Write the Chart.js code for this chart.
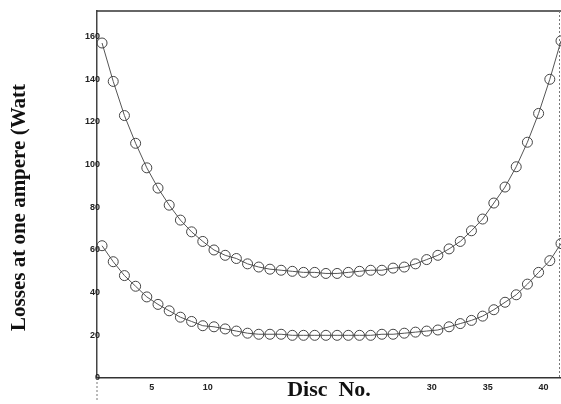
<!DOCTYPE html>
<html>
<head>
<meta charset="utf-8">
<script src="https://cdn.jsdelivr.net/npm/chart.js@4"></script>
<style>
  html, body { margin: 0; padding: 0; background: #fff; }
  #wrap { width: 561px; height: 404px; position: relative; }
</style>
</head>
<body>
<div id="wrap"><canvas id="chart"></canvas></div>
<script>
// disc numbers along the string
const discs = [1, 2, 3, 4, 5, 6, 7, 8, 9, 10, 11, 12, 13, 14, 15, 16, 17, 18, 19, 20, 21,
  22, 23, 24, 25, 26, 27, 28, 29, 30, 31, 32, 33, 34, 35, 36, 37, 38, 39, 40, 41, 42];

// upper curve (watts)
const upperLosses = [157, 139, 123, 110, 98.5, 89, 81, 74, 68.5, 64, 60, 57.5, 56, 53.5, 52, 51,
  50.5, 50, 49.5, 49.5, 49, 49, 49.5, 50, 50.5, 50.5, 51.5, 52, 53.5, 55.5, 57.5, 60.5, 64,
  69, 74.5, 82, 89.5, 99, 110.5, 124, 140, 158];

// lower curve (watts)
const lowerLosses = [62, 54.5, 48, 43, 38, 34.5, 31.5, 28.5, 26.5, 24.5, 24, 23, 22, 21, 20.5,
  20.5, 20.5, 20, 20, 20, 20, 20, 20, 20, 20, 20.5, 20.5, 21, 21.5, 22, 22.5, 24, 25.5, 27, 29,
  32, 35.5, 39, 44, 49.5, 55, 63];

const xTicks = [5, 10, 30, 35, 40];
const yTicks = [0, 20, 40, 60, 80, 100, 120, 140, 160];
const yTitle = 'Losses at one ampere (Watt';

const toPoints = (vals) => discs.map((d, i) => ({ x: d, y: vals[i] }));

// frame lines of the plot box + rotated y title
const frame = {
  id: 'frame',
  afterDraw(chart) {
    const { ctx, chartArea: a } = chart;
    ctx.save();
    ctx.strokeStyle = '#333';
    ctx.lineWidth = 1.5;
    ctx.beginPath();
    ctx.moveTo(a.left, a.top);
    ctx.lineTo(a.right, a.top);
    ctx.stroke();

    ctx.lineWidth = 1;
    ctx.setLineDash([2, 2]);
    ctx.strokeStyle = '#777';
    ctx.beginPath();
    ctx.moveTo(a.right - 1.5, a.top);
    ctx.lineTo(a.right - 1.5, a.bottom);
    // y axis runs on a little below the x axis
    ctx.moveTo(a.left, a.bottom);
    ctx.lineTo(a.left, chart.height - 4);
    ctx.stroke();
    ctx.setLineDash([]);

    ctx.translate(20, (a.top + a.bottom) / 2 + 13);
    ctx.rotate(-Math.PI / 2);
    ctx.font = 'bold 21px "Liberation Serif"';
    ctx.fillStyle = '#111';
    ctx.textAlign = 'center';
    ctx.textBaseline = 'middle';
    ctx.fillText(yTitle, 0, 0);
    ctx.restore();
  },
};

const lineStyle = {
  borderColor: '#555',
  borderWidth: 1,
  pointRadius: 5,
  pointBorderColor: '#444',
  pointBorderWidth: 1,
  pointBackgroundColor: 'rgba(0,0,0,0)',
  tension: 0,
  clip: false,
};

new Chart(document.getElementById('chart'), {
  type: 'line',
  data: {
    datasets: [
      { label: 'upper', data: toPoints(upperLosses), ...lineStyle },
      { label: 'lower', data: toPoints(lowerLosses), ...lineStyle },
    ],
  },
  options: {
    responsive: true,
    maintainAspectRatio: false,
    animation: false,
    layout: { autoPadding: false, padding: { top: 11, right: 0, left: 0, bottom: 0 } },
    plugins: {
      legend: { display: false },
      tooltip: { enabled: false },
    },
    scales: {
      x: {
        type: 'linear',
        min: 0.55,
        max: 42,
        afterBuildTicks: (s) => { s.ticks = xTicks.map((v) => ({ value: v })); },
        afterFit: (s) => { s.height = 26; },
        grid: { display: false, drawTicks: false },
        border: { display: true, color: '#333', width: 1.5 },
        ticks: {
          padding: 4,
          labelOffset: 5,
          maxRotation: 0,
          color: '#222',
          font: { family: 'Liberation Sans', weight: 'bold', size: 9 },
        },
        title: {
          display: true,
          text: 'Disc  No.',
          color: '#111',
          padding: { top: 0, bottom: 0 },
          font: { family: 'Liberation Serif', weight: 'bold', size: 22 },
        },
      },
      y: {
        min: 0,
        max: 172,
        afterBuildTicks: (s) => { s.ticks = yTicks.map((v) => ({ value: v })); },
        afterFit: (s) => { s.width = 97; },
        grid: { display: false, drawTicks: false },
        border: { display: true, color: '#444', width: 1.5 },
        ticks: {
          mirror: true,
          crossAlign: 'far',
          padding: -12,
          color: '#222',
          font: { family: 'Liberation Sans', weight: 'bold', size: 9 },
        },
      },
    },
  },
  plugins: [frame],
});
</script>
</body>
</html>
